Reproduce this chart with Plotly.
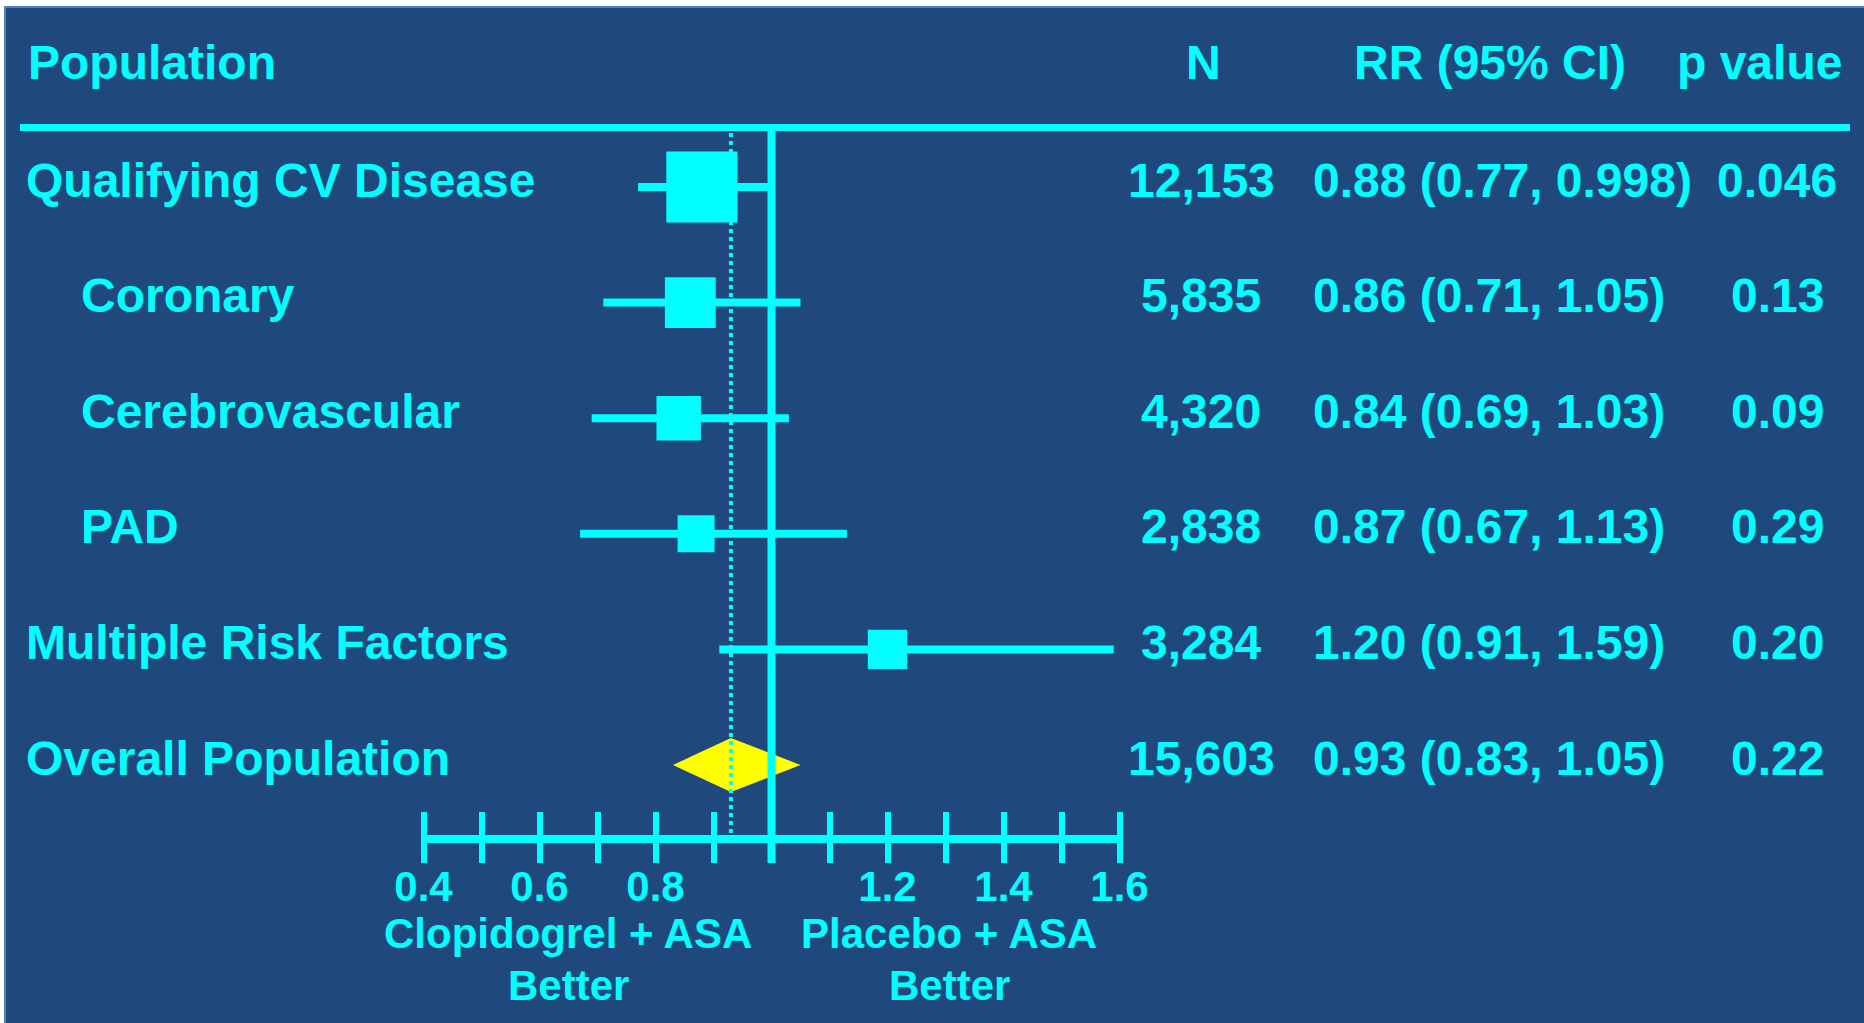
import math
import plotly.graph_objects as go

# ---- data -------------------------------------------------------------
populations = [
    "Qualifying CV Disease",
    "Coronary",
    "Cerebrovascular",
    "PAD",
    "Multiple Risk Factors",
    "Overall Population",
]
n_patients = [12153, 5835, 4320, 2838, 3284, 15603]
rr = [0.88, 0.86, 0.84, 0.87, 1.20, 0.93]
ci_low = [0.77, 0.71, 0.69, 0.67, 0.91, 0.83]
ci_high = [0.998, 1.05, 1.03, 1.13, 1.59, 1.05]
p_values = ["0.046", "0.13", "0.09", "0.29", "0.20", "0.22"]

tick_values = [0.4, 0.5, 0.6, 0.7, 0.8, 0.9, 1.0, 1.1, 1.2, 1.3, 1.4, 1.5, 1.6]
tick_labels = ["0.4", "", "0.6", "", "0.8", "", "", "", "1.2", "", "1.4", "", "1.6"]
x_range = [0.4, 1.6]

headers = ["Population", "N", "RR (95% CI)", "p value"]
favours_left = ["Clopidogrel + ASA", "Better"]
favours_right = ["Placebo + ASA", "Better"]

# ---- styling ----------------------------------------------------------
W, H = 1864, 1023
BG = "#1F497D"
CYAN = "#00FFFF"
YELLOW = "#FFFF00"
FONT = "Liberation Sans, Arial, sans-serif"
label_indent = [0, 55, 55, 55, 0, 0]      # extra px for subgroup rows
row_px0, row_step = 187.0, 115.6          # pixel centre of first row / spacing
plot_top_px, plot_bottom_px = 128.0, 835.0
axis_left_px, axis_right_px = 423.5, 1119.5
tick_bottom_px, tick_top_px = 863.0, 812.0
px_per_unit = (axis_right_px - axis_left_px) / (x_range[1] - x_range[0])
pad = 0.01                                # keeps end ticks inside the tick axis


def px_x(p):
    return p / W


def px_y(p):
    return 1 - p / H


def fmt(v):
    s = f"{v:.3f}".rstrip("0")
    dec = s.split(".")[1] if "." in s else ""
    return s + "0" * (2 - len(dec)) if len(dec) < 2 else s


rows = list(range(len(populations)))
subgroups = rows[:-1]
overall = rows[-1]

fig = go.Figure()

# confidence interval whiskers for subgroup rows
wx, wy = [], []
for i in subgroups:
    wx += [ci_low[i], ci_high[i], None]
    wy += [i, i, None]
fig.add_trace(go.Scatter(x=wx, y=wy, mode="lines",
                         line=dict(color=CYAN, width=8), hoverinfo="skip"))

# point estimates, box size scaled by sample size
fig.add_trace(go.Scatter(
    x=[rr[i] for i in subgroups], y=subgroups, mode="markers",
    marker=dict(symbol="square", color=CYAN, opacity=1,
                size=[5 + 0.6 * math.sqrt(n_patients[i]) for i in subgroups],
                line=dict(width=0)),
    hoverinfo="skip"))

# overall estimate as a diamond
half_h = 0.234
fig.add_trace(go.Scatter(
    x=[ci_low[overall], rr[overall], ci_high[overall], rr[overall], ci_low[overall]],
    y=[overall, overall - half_h, overall, overall + half_h, overall],
    mode="lines", fill="toself", fillcolor=YELLOW,
    line=dict(color=YELLOW, width=0), hoverinfo="skip"))

# dummy trace so the tick-mark axis gets drawn
fig.add_trace(go.Scatter(x=x_range, y=[overall, overall], xaxis="x2",
                         mode="lines", line=dict(width=0), hoverinfo="skip"))

shapes = [
    # slide panel
    dict(type="rect", xref="paper", yref="paper", x0=px_x(5), x1=1.01,
         y0=-0.01, y1=px_y(7), fillcolor=BG, line=dict(color="#4F81BD", width=2),
         layer="below"),
    # header rule
    dict(type="line", xref="paper", yref="paper", x0=px_x(20), x1=px_x(1850),
         y0=px_y(127.5), y1=px_y(127.5), line=dict(color=CYAN, width=7)),
    # line of no effect
    dict(type="line", xref="x", yref="paper", x0=1.0, x1=1.0,
         y0=px_y(tick_bottom_px), y1=px_y(127), line=dict(color=CYAN, width=8)),
    # overall estimate reference
    dict(type="line", xref="x", yref="paper", x0=rr[overall], x1=rr[overall],
         y0=px_y(833), y1=px_y(132), line=dict(color=CYAN, width=4, dash="dot")),
]

big = dict(family=FONT, size=48, color=CYAN, weight="bold")
small = dict(family=FONT, size=42, color=CYAN, weight="bold")

ann = []
# column headers
ann.append(dict(text=headers[0], x=px_x(26), y=px_y(63), xanchor="left"))
ann.append(dict(text=headers[1], x=px_x(1203), y=px_y(63), xanchor="center"))
ann.append(dict(text=headers[2], x=px_x(1490), y=px_y(63), xanchor="center"))
ann.append(dict(text=headers[3], x=px_x(1759), y=px_y(63), xanchor="center"))
for a in ann:
    a.update(xref="paper", yref="paper", yanchor="middle", showarrow=False, font=big)

for i in rows:
    common = dict(yref="y", y=i, yshift=7, yanchor="middle", showarrow=False,
                  font=big, xref="paper")
    ann.append(dict(text=populations[i], x=px_x(24 + label_indent[i]),
                    xanchor="left", **common))
    ann.append(dict(text=f"{n_patients[i]:,}", x=px_x(1201), xanchor="center", **common))
    ann.append(dict(text=f"{fmt(rr[i])} ({fmt(ci_low[i])}, {fmt(ci_high[i])})",
                    x=px_x(1311), xanchor="left", **common))
    ann.append(dict(text=p_values[i], x=px_x(1777), xanchor="center", **common))

# "favours" captions under the scale
for lines, cx in [(favours_left, 568), (favours_right, 949)]:
    for txt, cy in zip(lines, [933, 985]):
        ann.append(dict(text=txt, x=px_x(cx), y=px_y(cy), xref="paper", yref="paper",
                        xanchor="center", yanchor="middle", showarrow=False,
                        font=small))

fig.update_layout(
    width=W, height=H,
    margin=dict(l=0, r=0, t=0, b=0, autoexpand=False),
    paper_bgcolor="white", plot_bgcolor="rgba(0,0,0,0)",
    showlegend=False, shapes=shapes, annotations=ann,
    # scale line with its labels
    xaxis=dict(domain=[px_x(axis_left_px), px_x(axis_right_px)], range=x_range,
               showgrid=False, zeroline=False, showline=True, linewidth=8,
               linecolor=CYAN, ticks="outside", ticklen=20, tickwidth=6,
               tickcolor="rgba(0,0,0,0)", tickmode="array", tickvals=tick_values,
               ticktext=tick_labels, tickfont=small, ticklabelstandoff=-12,
               automargin=False, fixedrange=True),
    # tick marks crossing the scale line (same scale, slightly wider span)
    xaxis2=dict(domain=[px_x(axis_left_px - pad * px_per_unit),
                        px_x(axis_right_px + pad * px_per_unit)],
                range=[x_range[0] - pad, x_range[1] + pad],
                anchor="free", position=px_y(tick_bottom_px), side="bottom",
                showgrid=False, zeroline=False, showline=False,
                ticks="inside", ticklen=tick_bottom_px - tick_top_px, tickwidth=6,
                tickcolor=CYAN, tickmode="array", tickvals=tick_values,
                showticklabels=False, automargin=False, fixedrange=True),
    yaxis=dict(domain=[px_y(plot_bottom_px), px_y(plot_top_px)],
               range=[(plot_bottom_px - row_px0) / row_step,
                      (plot_top_px - row_px0) / row_step],
               visible=False, automargin=False, fixedrange=True),
)

fig.write_html("out.html")
